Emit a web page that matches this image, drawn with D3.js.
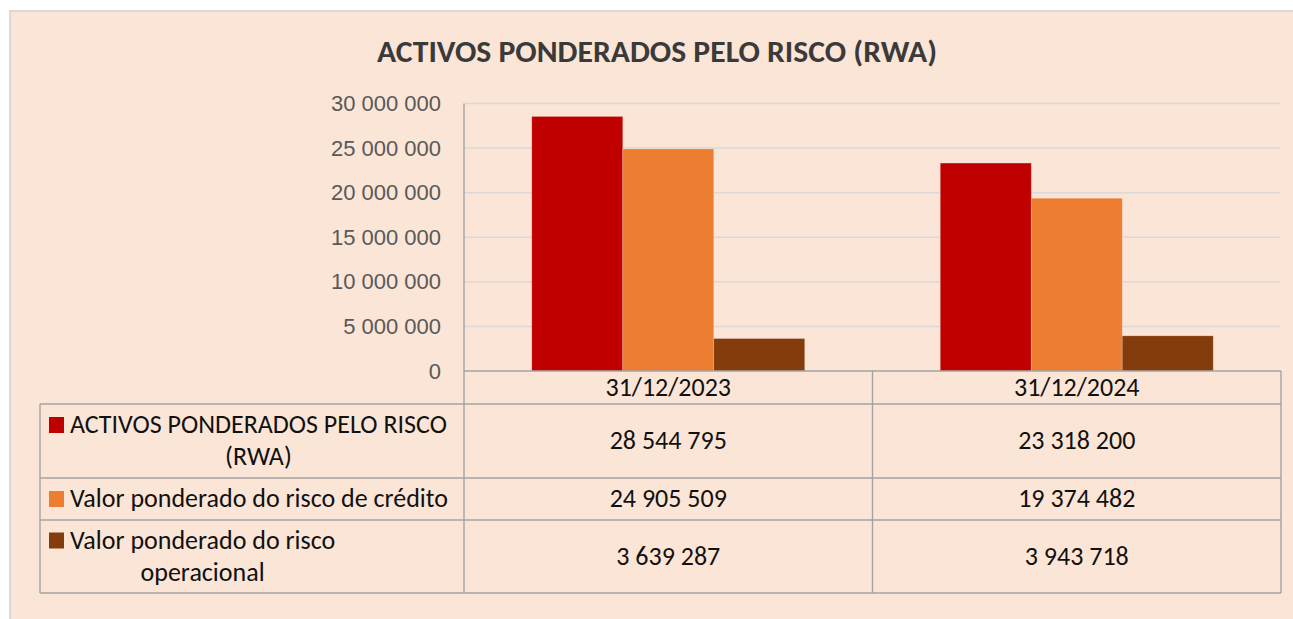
<!DOCTYPE html>
<html lang="pt">
<head>
<meta charset="UTF-8">
<title>Activos ponderados pelo risco</title>
<script src="https://cdn.jsdelivr.net/npm/d3@7"></script>
<style>
  body { margin: 0; background: #fff; }
  svg { display: block; font-family: Carlito, "Open Sans", sans-serif; }
</style>
</head>
<body>
<svg id="chart" width="1293" height="619"></svg>
<script>
// data
var categories = ["31/12/2023", "31/12/2024"];
var seriesLines = [
  ["ACTIVOS PONDERADOS PELO RISCO", "(RWA)"],
  ["Valor ponderado do risco de crédito"],
  ["Valor ponderado do risco", "operacional"]
];
var rwa = [28544795, 23318200];
var credito = [24905509, 19374482];
var operacional = [3639287, 3943718];
var yTicks = [0, 5000000, 10000000, 15000000, 20000000, 25000000, 30000000];

var series = [rwa, credito, operacional];
var colors = ["#c00000", "#ed7d31", "#843c0c"];

var loc = d3.formatLocale({ decimal: ",", thousands: " ", grouping: [3], currency: ["", ""] });
var fmt = loc.format(",d");

var svg = d3.select("#chart");
var tableFont = 26;

// panel
svg.append("rect")
  .attr("x", 10).attr("y", 11)
  .attr("width", 1300).attr("height", 620)
  .attr("fill", "#fbe5d6")
  .attr("stroke", "#d9d9d9").attr("stroke-width", 2);

svg.append("text")
  .attr("x", 657).attr("y", 62)
  .attr("text-anchor", "middle")
  .attr("font-size", 31).attr("font-weight", "bold")
  .attr("fill", "#3a3a3a")
  .attr("textLength", 560).attr("lengthAdjust", "spacingAndGlyphs")
  .text("ACTIVOS PONDERADOS PELO RISCO (RWA)");

var plotL = 464, plotR = 1281, plotT = 103.5, plotB = 371;
var tableL = 40;
var rowY = [371, 404, 478, 520, 593];
var borderCol = "#a3a3a3";

var y = d3.scaleLinear().domain([0, 30000000]).range([plotB, plotT]);
var x = d3.scaleBand().domain(categories).range([plotL, plotR]);
var xs = d3.scaleBand().domain(d3.range(series.length))
  .range([0, x.bandwidth()]).paddingInner(0).paddingOuter(0.745);

// gridlines
svg.append("g").selectAll("line")
  .data(yTicks.filter(function (d) { return d > 0; }))
  .enter().append("line")
  .attr("x1", plotL).attr("x2", plotR - 1)
  .attr("y1", function (d) { return y(d); })
  .attr("y2", function (d) { return y(d); })
  .attr("stroke", "#d9d9d9").attr("stroke-width", 1.5);

// y axis labels
var yAxis = d3.axisLeft(y).tickValues(yTicks).tickFormat(fmt).tickSize(0).tickPadding(23);
var ga = svg.append("g").attr("transform", "translate(" + plotL + ",0)").call(yAxis);
ga.select(".domain").remove();
ga.selectAll("text")
  .attr("font-family", null)
  .attr("font-size", 22)
  .attr("dy", "0.32em")
  .attr("fill", "#595959");

// bars
series.forEach(function (vals, si) {
  svg.append("g").selectAll("rect")
    .data(vals)
    .enter().append("rect")
    .attr("x", function (d, i) { return x(categories[i]) + xs(si); })
    .attr("width", xs.bandwidth())
    .attr("y", function (d) { return y(d); })
    .attr("height", function (d) { return plotB - y(d); })
    .attr("fill", colors[si])
    .attr("stroke", "rgba(255,255,255,0.25)").attr("stroke-width", 0.8);
});

// data table
var tb = svg.append("g")
  .attr("stroke", borderCol).attr("stroke-width", 1.4).attr("fill", "none");
tb.append("line").attr("x1", plotL).attr("x2", plotR).attr("y1", rowY[0]).attr("y2", rowY[0]);
for (var r = 1; r < rowY.length; r++) {
  tb.append("line").attr("x1", tableL).attr("x2", plotR).attr("y1", rowY[r]).attr("y2", rowY[r]);
}
tb.append("line").attr("x1", plotL).attr("x2", plotL).attr("y1", plotT).attr("y2", rowY[4]);
tb.append("line").attr("x1", tableL).attr("x2", tableL).attr("y1", rowY[1]).attr("y2", rowY[4]);
categories.forEach(function (c) {
  var xe = x(c) + x.bandwidth();
  tb.append("line").attr("x1", xe).attr("x2", xe).attr("y1", rowY[0]).attr("y2", rowY[4]);
});

// header row
svg.append("g").selectAll("text")
  .data(categories)
  .enter().append("text")
  .attr("x", function (d) { return x(d) + x.bandwidth() / 2; })
  .attr("y", (rowY[0] + rowY[1]) / 2)
  .attr("dy", "0.32em")
  .attr("text-anchor", "middle")
  .attr("font-size", tableFont).attr("fill", "#111")
  .text(function (d) { return d; });

// value rows + legend labels
series.forEach(function (vals, si) {
  var cy = (rowY[si + 1] + rowY[si + 2]) / 2;
  svg.append("g").selectAll("text")
    .data(vals)
    .enter().append("text")
    .attr("x", function (d, i) { return x(categories[i]) + x.bandwidth() / 2; })
    .attr("y", cy)
    .attr("dy", "0.32em")
    .attr("text-anchor", "middle")
    .attr("font-size", tableFont).attr("fill", "#111")
    .text(function (d) { return fmt(d); });

  var lines = seriesLines[si];
  var n = lines.length;
  var lineH = 32;
  var firstY = cy - (n - 1) * lineH / 2;
  svg.append("rect")
    .attr("x", 49).attr("y", firstY - 8)
    .attr("width", 15).attr("height", 16)
    .attr("fill", colors[si]);
  var txt = svg.append("g").selectAll("text")
    .data(lines)
    .enter().append("text")
    .attr("y", function (d, i) { return firstY + i * lineH; })
    .attr("dy", "0.32em")
    .attr("text-anchor", "middle")
    .attr("font-size", tableFont).attr("fill", "#111")
    .text(function (d) { return d; });
  var w = 0;
  txt.each(function () { w = Math.max(w, this.getComputedTextLength()); });
  txt.attr("x", 70 + w / 2);
});
</script>
</body>
</html>
